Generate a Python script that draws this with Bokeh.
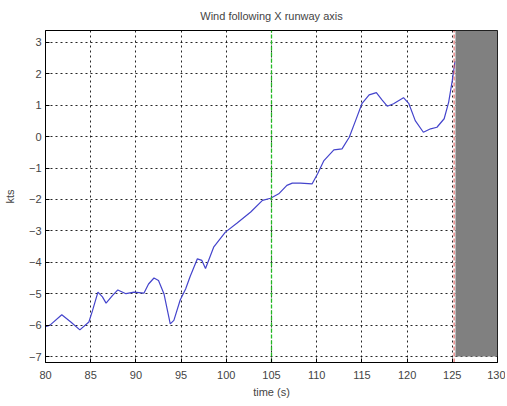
from bokeh.plotting import figure
from bokeh.models import Range1d, FixedTicker
from bokeh.embed import file_html
from bokeh.resources import INLINE

# data
time_s = [80, 80.5, 81.8, 82.8, 83.8, 84.8, 85.2, 85.8, 86.3, 86.7, 87.4, 88.0, 88.9, 89.8,
          90.9, 91.4, 92.0, 92.5, 93.1, 93.8, 94.2, 94.9, 95.5, 96.0, 96.8, 97.3, 97.7, 98.6,
          99.9, 101.2, 102.7, 104.0, 104.9, 105.8, 106.7, 107.3, 108.2, 109.5, 110.1, 110.8,
          111.9, 112.8, 113.6, 114.3, 115.0, 115.8, 116.6, 117.2, 117.8, 118.5, 119.6, 120.2,
          120.9, 121.8, 122.6, 123.3, 124.1, 124.6, 125.0, 125.3]
wind_kts = [-6.05, -6.0, -5.67, -5.9, -6.15, -5.9, -5.54, -4.95, -5.1, -5.3, -5.06, -4.88, -5.0,
            -4.95, -4.98, -4.69, -4.5, -4.58, -5.0, -5.96, -5.85, -5.2, -4.85, -4.45, -3.89,
            -3.94, -4.2, -3.52, -3.04, -2.75, -2.4, -2.03, -1.96, -1.82, -1.55, -1.48, -1.48,
            -1.5, -1.18, -0.76, -0.42, -0.39, -0.02, 0.51, 1.05, 1.33, 1.4, 1.18, 0.97, 1.05,
            1.24, 1.05, 0.51, 0.14, 0.25, 0.3, 0.57, 1.1, 1.79, 2.4]
x_ticks = [80, 85, 90, 95, 100, 105, 110, 115, 120, 125, 130]
y_ticks = [-7, -6, -5, -4, -3, -2, -1, 0, 1, 2, 3]
green_marker_t = 105
red_marker_t = 125.2
shade_start, shade_end = 125.35, 130
shade_bottom, shade_top = -7, 3.38
y_lo, y_hi = -7.19, 3.38

FONT = "Liberation Sans"
TXT = "#444444"

p = figure(width=505, height=404, output_backend="svg", toolbar_location=None,
           title="Wind following X runway axis",
           x_range=Range1d(80, 130), y_range=Range1d(y_lo, y_hi),
           min_border_left=45, min_border_right=8, min_border_top=30, min_border_bottom=42)

p.title.align = "center"
p.title.vertical_align = "top"
p.title.text_font = FONT
p.title.text_font_size = "11px"
p.title.text_font_style = "normal"
p.title.text_color = TXT
p.title.offset = 0
p.title.standoff = 14

p.background_fill_color = "white"
p.border_fill_color = "white"
p.outline_line_color = "black"
p.outline_line_width = 1

for ax in (p.xaxis[0], p.yaxis[0]):
    ax.major_tick_in = 4
    ax.major_tick_out = 0
    ax.minor_tick_in = 0
    ax.minor_tick_out = 0
    ax.axis_line_color = "black"
    ax.major_tick_line_color = "black"
    ax.major_label_text_font = FONT
    ax.major_label_text_font_size = "11px"
    ax.major_label_text_color = TXT
    ax.axis_label_text_font = FONT
    ax.axis_label_text_font_size = "11px"
    ax.axis_label_text_font_style = "normal"
    ax.axis_label_text_color = TXT
    ax.axis_label_standoff = 4
    ax.major_label_standoff = 4

p.xaxis.ticker = FixedTicker(ticks=x_ticks)
p.yaxis.ticker = FixedTicker(ticks=y_ticks)
p.xaxis.axis_label = "time (s)"
p.yaxis.axis_label = "kts"
p.yaxis.axis_label_standoff = 10
p.xaxis.major_label_standoff = 8
p.xaxis.axis_label_standoff = 4

for g in (p.xgrid[0], p.ygrid[0]):
    g.grid_line_color = "black"
    g.grid_line_dash = "2 3"
    g.grid_line_width = 1
    g.grid_line_alpha = 0.85
p.xgrid.ticker = FixedTicker(ticks=x_ticks)
p.ygrid.ticker = FixedTicker(ticks=y_ticks)

p.line(time_s, wind_kts, line_color="#4444cc", line_width=1.2)

p.segment(x0=[green_marker_t], y0=[y_lo], x1=[green_marker_t], y1=[y_hi],
          line_color="#22bb22", line_dash="4 2", line_width=1.3)
p.segment(x0=[red_marker_t], y0=[y_lo], x1=[red_marker_t], y1=[y_hi],
          line_color="#dd5555", line_dash="4 2", line_width=1)

p.quad(left=[shade_start], right=[shade_end], bottom=[shade_bottom], top=[shade_top],
       fill_color="#808080", line_color=None)

open("out.html", "w").write(file_html(p, INLINE))
